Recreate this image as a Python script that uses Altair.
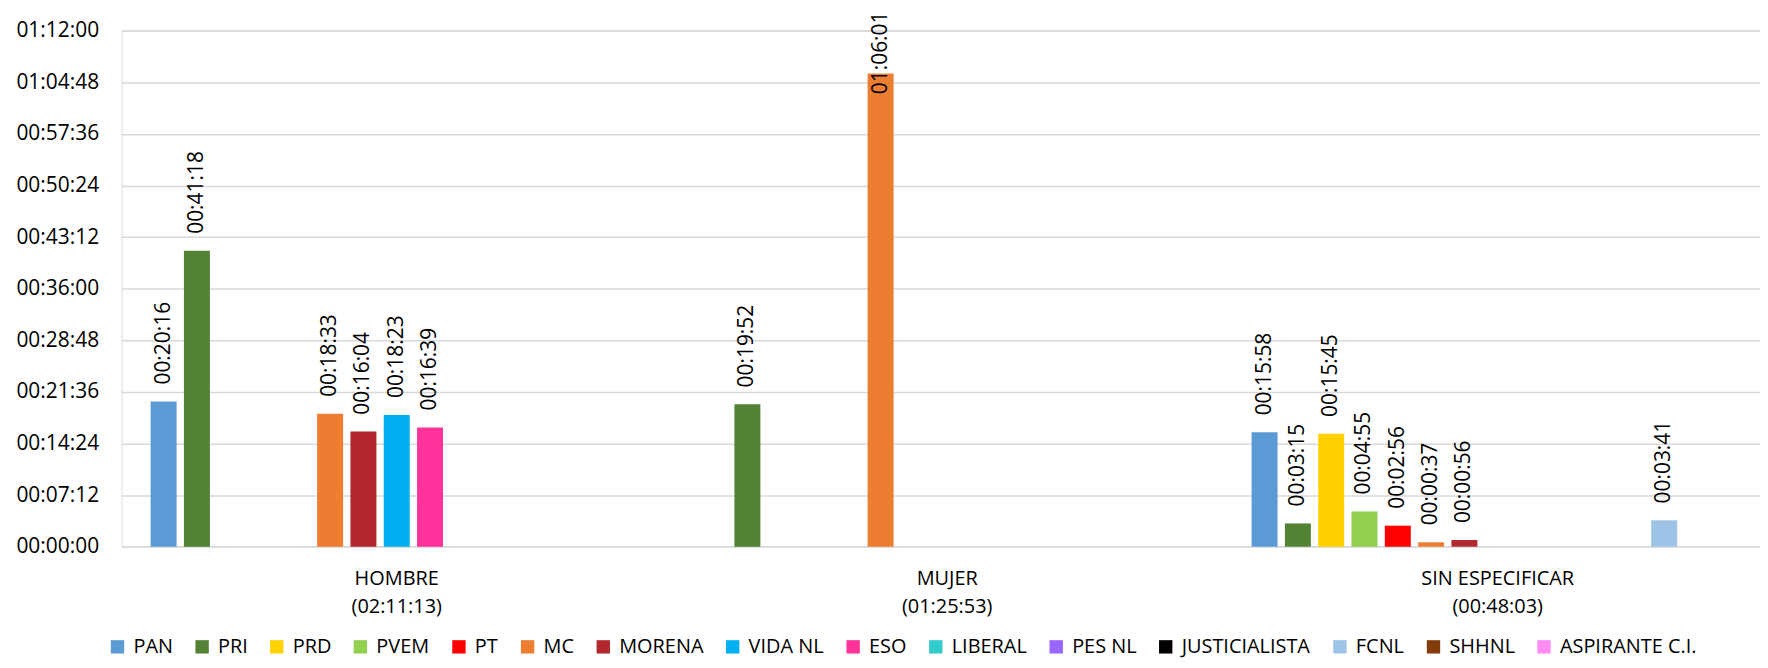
import altair as alt
import pandas as pd

# ---------------- data ----------------
categories = ["HOMBRE", "MUJER", "SIN ESPECIFICAR"]
category_totals = ["02:11:13", "01:25:53", "00:48:03"]

parties = ["PAN", "PRI", "PRD", "PVEM", "PT", "MC", "MORENA", "VIDA NL", "ESO",
           "LIBERAL", "PES NL", "JUSTICIALISTA", "FCNL", "SHHNL", "ASPIRANTE C.I."]
party_colors = ["#5B9BD5", "#548235", "#FFD100", "#92D050", "#FF0000", "#ED7D31",
                "#B2282E", "#00B0F0", "#FF3399", "#33CCCC", "#9966FF", "#000000",
                "#9DC3E6", "#843C0C", "#FF8CF5"]

hombre = ["00:20:16", "00:41:18", None, None, None, "00:18:33", "00:16:04",
          "00:18:23", "00:16:39", None, None, None, None, None, None]
mujer = [None, "00:19:52", None, None, None, "01:06:01", None,
         None, None, None, None, None, None, None, None]
sin_especificar = ["00:15:58", "00:03:15", "00:15:45", "00:04:55", "00:02:56",
                   "00:00:37", "00:00:56", None, None, None, None, None,
                   "00:03:41", None, None]

y_ticks = ["00:00:00", "00:07:12", "00:14:24", "00:21:36", "00:28:48", "00:36:00",
           "00:43:12", "00:50:24", "00:57:36", "01:04:48", "01:12:00"]


def to_sec(t):
    h, m, s = (int(p) for p in t.split(":"))
    return h * 3600 + m * 60 + s


cat_labels = [f"{c}|({t})" for c, t in zip(categories, category_totals)]
rows = []
for cat, series in zip(cat_labels, [hombre, mujer, sin_especificar]):
    for party, val in zip(parties, series):
        if val is not None:
            rows.append({"cat": cat, "party": party, "time": val, "sec": to_sec(val)})
df = pd.DataFrame(rows)

tick_values = [to_sec(t) for t in y_ticks]
y_max = tick_values[-1]

FONT = "Open Sans"
# data labels that would leave the chart are pushed down (as the original does)
LABEL_CAP = 3647

# the category band runs a little past the visible plot edge, as in the original
x_enc = alt.X(
    "cat:N", sort=cat_labels,
    scale=alt.Scale(paddingInner=0, paddingOuter=0, range=[0, 1659]),
    axis=alt.Axis(title=None, labelExpr="split(datum.label, '|')", labelAngle=0,
                  labelFontSize=20, labelLineHeight=28, labelPadding=22,
                  labelBaseline="top", ticks=False, tickSize=0, domain=False,
                  grid=False, labelColor="#000000", labelFont=FONT),
)
xoff_enc = alt.XOffset("party:N", sort=parties,
                       scale=alt.Scale(domain=parties, paddingInner=0.22, paddingOuter=0.875))

bars = alt.Chart(df).mark_bar().encode(
    x=x_enc,
    xOffset=xoff_enc,
    y=alt.Y("sec:Q", scale=alt.Scale(domain=[0, y_max], nice=False, zero=True),
            axis=alt.Axis(title=None, values=tick_values,
                          labelExpr="utcFormat(datum.value*1000, '%H:%M:%S')",
                          labelFontSize=21, labelPadding=23, ticks=False, tickSize=0,
                          domain=False, grid=True, gridColor="#D9D9D9", gridWidth=1.6,
                          labelColor="#000000", labelFont=FONT)),
    color=alt.Color("party:N", scale=alt.Scale(domain=parties, range=party_colors),
                    legend=alt.Legend(title=None, orient="none", legendX=-14, legendY=609,
                                      direction="horizontal", columns=15,
                                      symbolType="square", symbolSize=180,
                                      symbolStrokeWidth=0, labelFontSize=20,
                                      labelFont=FONT, labelColor="#000000",
                                      columnPadding=19, labelOffset=6, labelLimit=300)),
)

labels = alt.Chart(df).transform_calculate(
    label_y=f"min(datum.sec, {LABEL_CAP})"
).mark_text(angle=270, align="left", baseline="middle", dx=17, font=FONT,
            fontSize=21, color="#000000").encode(
    x=x_enc,
    xOffset=xoff_enc,
    y=alt.Y("label_y:Q"),
    text="time:N",
)

chart = alt.layer(bars, labels).properties(
    width=1646, height=518.4,
    autosize=alt.AutoSizeParams(type="none"),
    padding={"left": 114, "top": 21.3, "right": 0, "bottom": 110},
).configure_view(stroke=None).configure(font=FONT)

chart.save("out.html", embed_options={"renderer": "svg", "actions": False})
